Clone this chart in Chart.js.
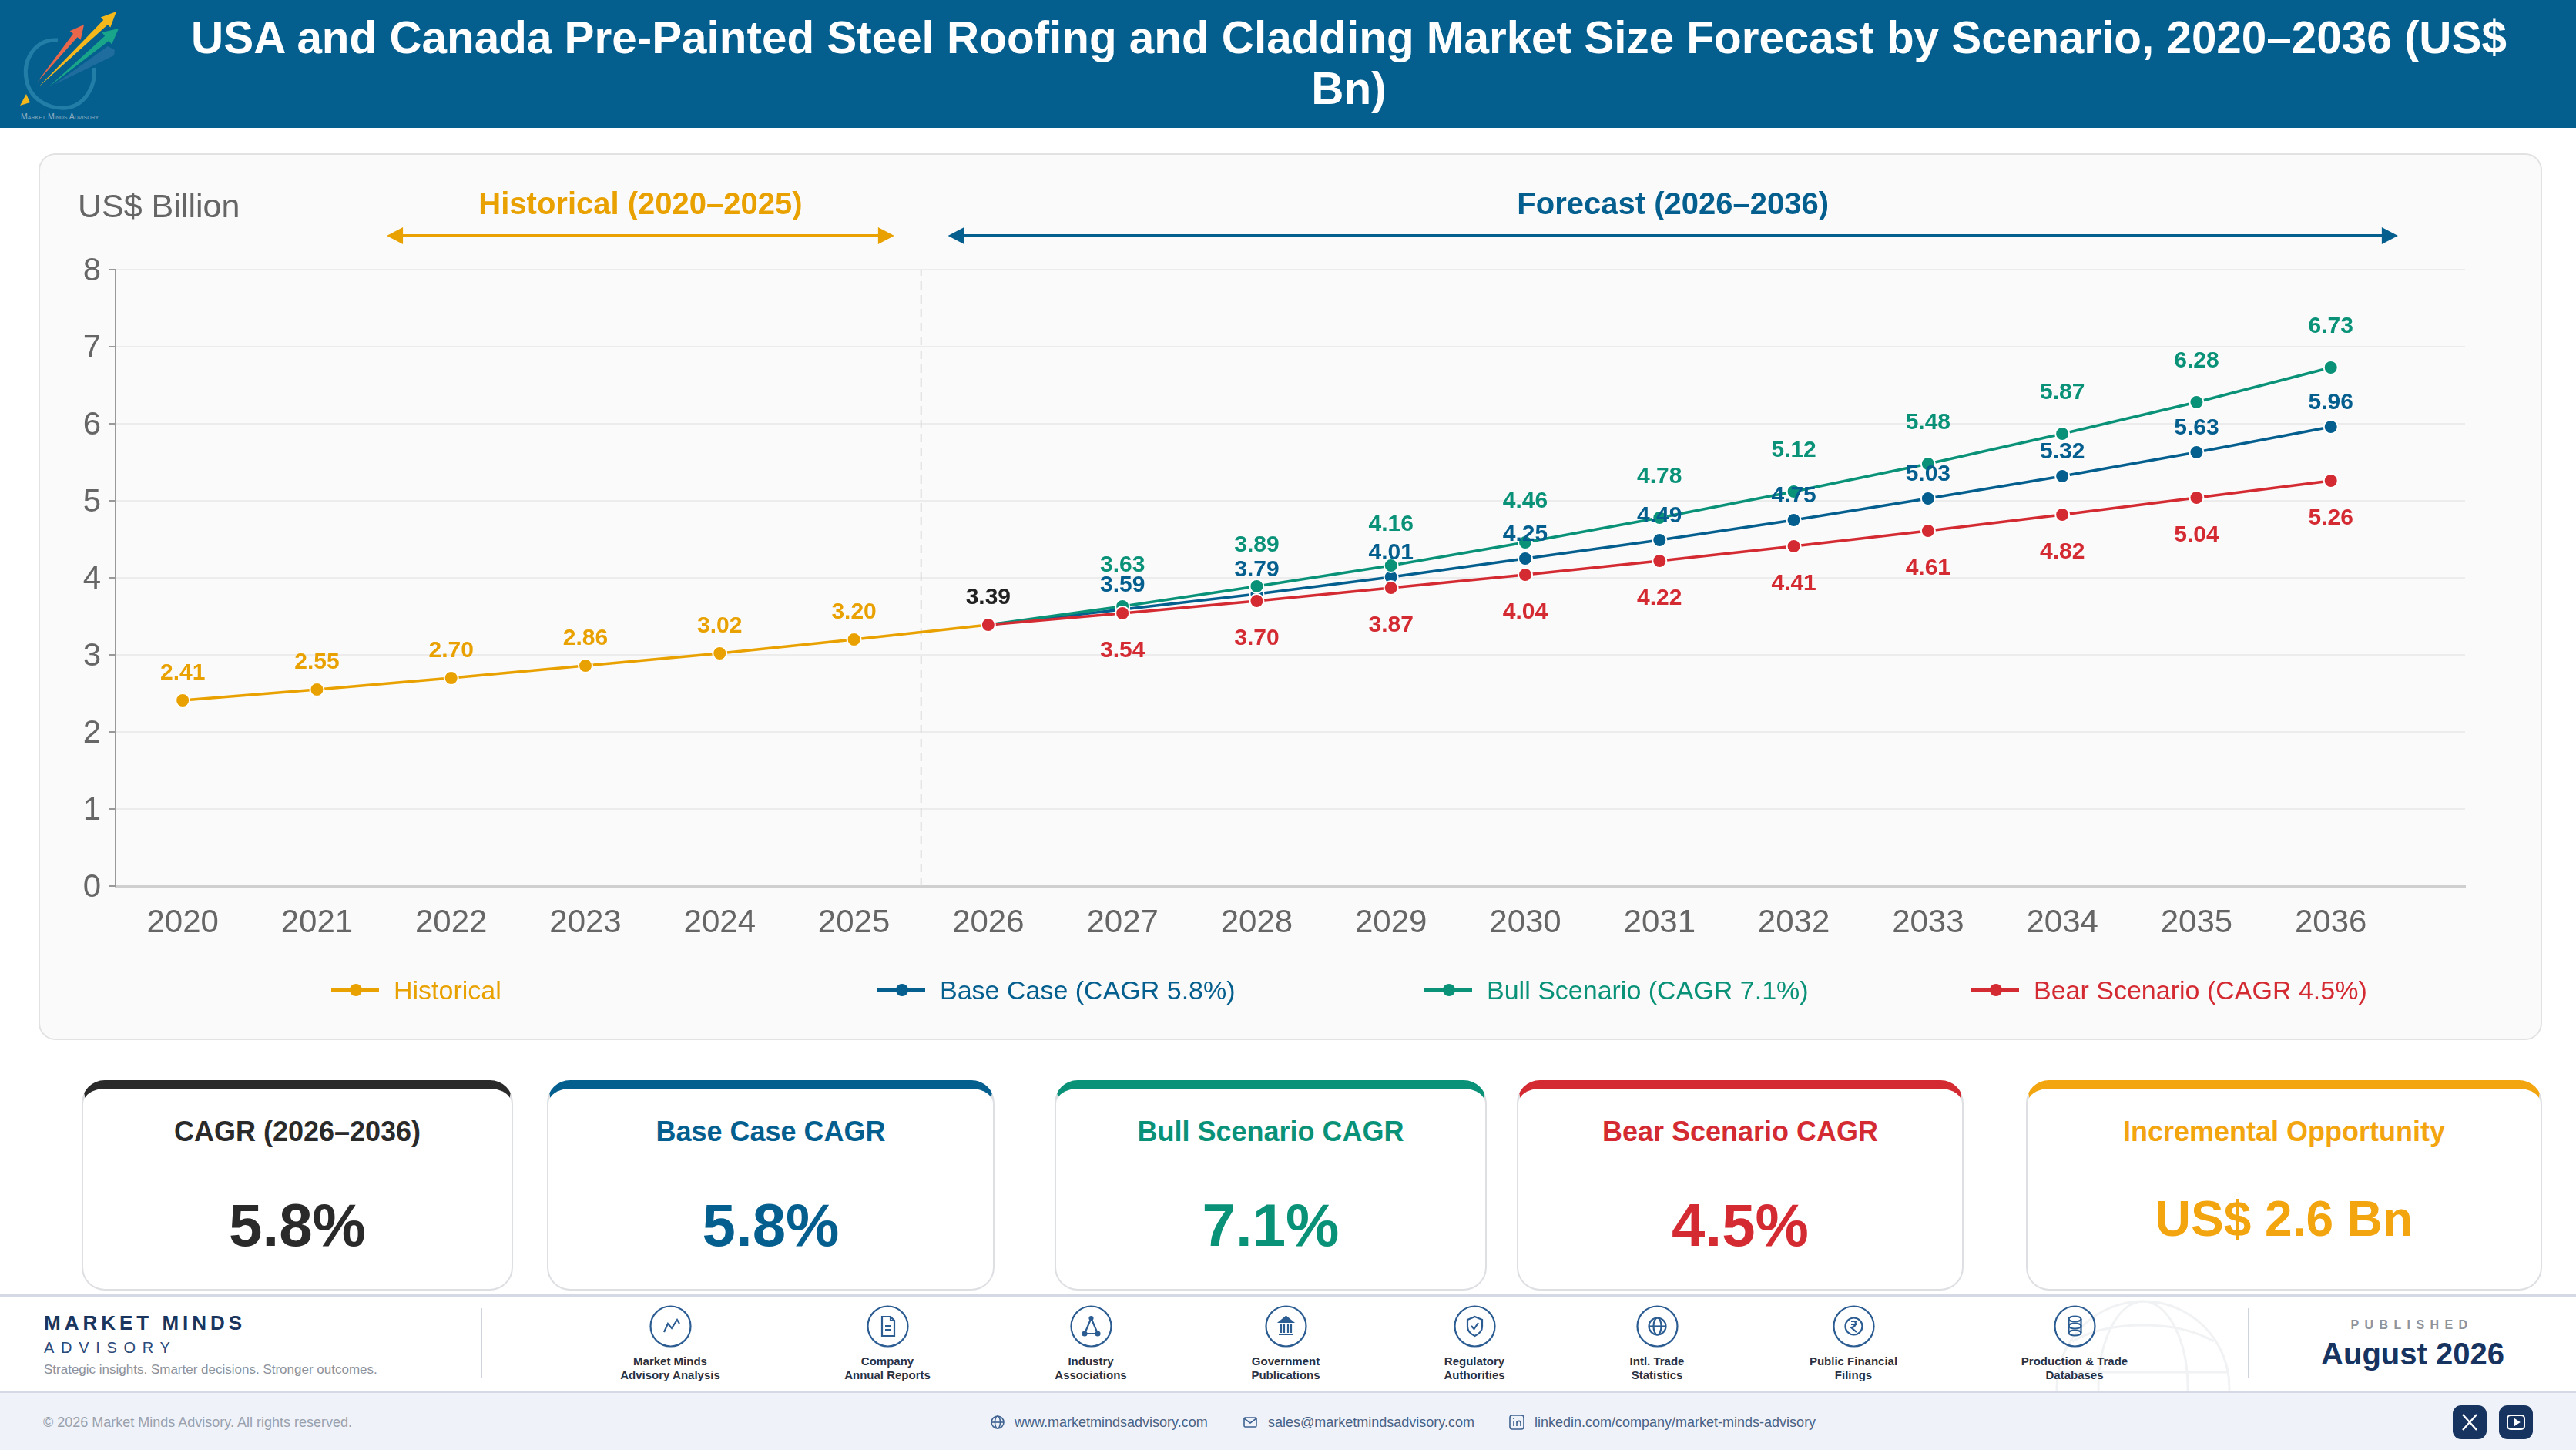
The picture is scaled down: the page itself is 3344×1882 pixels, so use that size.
<!DOCTYPE html>
<html>
<head>
<meta charset="utf-8">
<title>USA and Canada Pre-Painted Steel Roofing and Cladding Market Size Forecast</title>
<script src="https://cdn.jsdelivr.net/npm/chart.js@4/dist/chart.umd.min.js"></script>
<style>
  html, body { margin: 0; padding: 0; background: #fff; }
  body { position: relative; width: 3344px; height: 1882px; overflow: hidden; font-family: "Liberation Sans", Arial, sans-serif; }
  .abs { position: absolute; }
  .t { position: absolute; white-space: nowrap; line-height: 1; }
  .c { transform: translateX(-50%); text-align: center; }
  #header { left: 0; top: 0; width: 3344px; height: 166px; background: #045f8f; }
  #title { position: absolute; left: 1751px; top: 16px; transform: translateX(-50%); width: 3100px; text-align: center; color: #fff; font-weight: bold; font-size: 58.4px; line-height: 66px; }
  #panel { left: 50px; top: 199px; width: 3250px; height: 1151px; box-sizing: border-box; background: #fafafa; border: 2px solid #e2e2e2; border-radius: 22px; }
  #chartBox { position: absolute; left: 50px; top: 199px; width: 3250px; height: 1151px; }
  .card { position: absolute; top: 1402px; height: 273px; box-sizing: border-box; background: #fff; border: 2px solid #dedfe3; border-top-width: 11px; border-radius: 30px; }
  .card div { position: absolute; left: 0; right: 0; text-align: center; white-space: nowrap; font-weight: bold; line-height: 1; }
  .legend-mark { position: absolute; top: 1283px; width: 62px; height: 4px; }
  .legend-mark i { position: absolute; left: 24px; top: -6px; width: 16px; height: 16px; border-radius: 50%; background: inherit; }
  .src-icon { position: absolute; top: 1694px; width: 55px; height: 55px; }
  .src-label { position: absolute; top: 1758px; transform: translateX(-50%); text-align: center; white-space: nowrap; font-weight: bold; font-size: 15px; line-height: 18px; color: #2a3142; }
  .social { position: absolute; top: 1824px; width: 44px; height: 44px; border-radius: 11px; background: #17335f; }
</style>
</head>
<body>

<div class="abs" id="header">
  <svg class="abs" style="left:0;top:0" width="170" height="166" viewBox="0 0 170 166">
    <path d="M75 52 C45 50 30 78 34 102 C38 128 62 142 86 140 C110 137 125 112 122 88" fill="none" stroke="#2b86ad" stroke-width="5" opacity="0.8"/>
    <polygon points="26,137 39,133 34,122" fill="#f5b81c"/>
    <polygon points="70,110 140,60 149,65 148,72" fill="#1f6d9e"/>
    <polygon points="48,107 95,43.8 90.7,40.3 109,32 104.7,51.7 100.4,48.2" fill="#e8674a"/>
    <polygon points="63,113 136.1,46.7 132.3,42.1 154,37 145.1,57.5 141.3,52.9" fill="#18a589"/>
    <polygon points="50,113 134.2,26.1 130.7,22.5 151,15 143.3,35.5 139.8,31.9" fill="#f5b81c"/>
    <text x="27" y="155" font-size="10.5" fill="#8fb0c4" font-family="Liberation Sans" style="font-variant:small-caps">Market Minds Advisory</text>
  </svg>
  <div id="title">USA and Canada Pre-Painted Steel Roofing and Cladding Market Size Forecast by Scenario, 2020–2036 (US$<br>Bn)</div>
</div>

<div class="abs" id="panel"></div>
<div id="chartBox"><canvas id="chart1" width="3250" height="1151" style="width:3250px;height:1151px;display:block"></canvas></div>
<div class="t" style="left:101px;top:246px;font-size:43px;color:#666">US$ Billion</div>
<div id="legend"></div>

<div class="card" style="left:106px;width:560px;border-top-color:#2a2a2a;color:#2a2a2a"><div style="top:38px;font-size:36px">CAGR (2026–2036)</div><div style="top:138px;font-size:78px">5.8%</div></div>
<div class="card" style="left:710px;width:581px;border-top-color:#045f8f;color:#045f8f"><div style="top:38px;font-size:36px">Base Case CAGR</div><div style="top:138px;font-size:78px">5.8%</div></div>
<div class="card" style="left:1369px;width:561px;border-top-color:#0a9279;color:#0a9279"><div style="top:38px;font-size:36px">Bull Scenario CAGR</div><div style="top:138px;font-size:78px">7.1%</div></div>
<div class="card" style="left:1969px;width:580px;border-top-color:#d42a32;color:#d42a32"><div style="top:38px;font-size:36px">Bear Scenario CAGR</div><div style="top:138px;font-size:78px">4.5%</div></div>
<div class="card" style="left:2630px;width:670px;border-top-color:#f2a50f;color:#f2a50f"><div style="top:38px;font-size:36px">Incremental Opportunity</div><div style="top:137px;font-size:64px">US$ 2.6 Bn</div></div>

<!-- footer -->
<div class="abs" style="left:0;top:1680px;width:3344px;height:3px;background:#d5d8e5"></div>
<div class="abs" style="left:0;top:1805px;width:3344px;height:77px;background:#eff3f9;border-top:3px solid #d5d8e5;box-sizing:border-box"></div>
<svg class="abs" style="left:2660px;top:1683px" width="250" height="122" viewBox="0 0 250 122" fill="none" stroke="#f1f2f4" stroke-width="3">
  <circle cx="122" cy="118" r="112"/><ellipse cx="122" cy="118" rx="58" ry="112"/><path d="M10 98 H234 M30 58 C80 30 164 30 214 58"/>
</svg>
<div class="t" style="left:57px;top:1704px;font-size:26px;font-weight:bold;letter-spacing:5px;color:#1a365f">MARKET MINDS</div>
<div class="t" style="left:57px;top:1739px;font-size:20px;letter-spacing:8.7px;color:#2b4a7a">ADVISORY</div>
<div class="t" style="left:57px;top:1769px;font-size:17px;color:#8d929b">Strategic insights. Smarter decisions. Stronger outcomes.</div>
<div class="abs" style="left:624px;top:1698px;width:2px;height:91px;background:#cfd3dc"></div>
<div class="abs" style="left:2918px;top:1698px;width:2px;height:91px;background:#cfd3dc"></div>
<div class="t c" style="left:3131px;top:1712px;font-size:16px;font-weight:bold;letter-spacing:7.4px;color:#8f939b">PUBLISHED</div>
<div class="t c" style="left:3132px;top:1737px;font-size:40px;font-weight:bold;color:#17335f">August 2026</div>
<div id="sources"></div>

<div class="t" style="left:56px;top:1837px;font-size:18px;color:#9aa1ad">© 2026 Market Minds Advisory. All rights reserved.</div>
<svg class="abs" style="left:1285px;top:1836px" width="20" height="20" viewBox="0 0 20 20" fill="none" stroke="#3f6291" stroke-width="1.6"><circle cx="10" cy="10" r="8"/><ellipse cx="10" cy="10" rx="3.5" ry="8"/><path d="M2 10H18"/></svg>
<div class="t" style="left:1317px;top:1837px;font-size:18px;color:#4a6285">www.marketmindsadvisory.com</div>
<svg class="abs" style="left:1613px;top:1836px" width="20" height="20" viewBox="0 0 20 20" fill="none" stroke="#3f6291" stroke-width="1.6"><rect x="2" y="4" width="16" height="12" rx="1.5"/><path d="M2 5L10 11L18 5"/></svg>
<div class="t" style="left:1646px;top:1837px;font-size:18px;color:#4a6285">sales@marketmindsadvisory.com</div>
<svg class="abs" style="left:1958px;top:1835px" width="22" height="22" viewBox="0 0 22 22" fill="none" stroke="#3f6291" stroke-width="1.6"><rect x="2" y="2" width="18" height="18" rx="3"/><path d="M7 9V16M7 6V7M11 16V9M11 12C12 8.5 16 8.5 16 12V16"/></svg>
<div class="t" style="left:1992px;top:1837px;font-size:18px;color:#4a6285">linkedin.com/company/market-minds-advisory</div>
<div class="social" style="left:3184px"><svg width="44" height="44" viewBox="0 0 44 44" fill="none" stroke="#fff" stroke-width="2.4"><path d="M13 12L31 32M31 12L13 32"/></svg></div>
<div class="social" style="left:3244px"><svg width="44" height="44" viewBox="0 0 44 44" fill="none" stroke="#fff" stroke-width="2"><rect x="11" y="13" width="22" height="18" rx="4"/><path d="M20 18L26 22L20 26Z" fill="#fff"/></svg></div>

<script>
// Data
var allYears = [2020, 2021, 2022, 2023, 2024, 2025, 2026, 2027, 2028, 2029, 2030, 2031, 2032, 2033, 2034, 2035, 2036];
var histYears = [2020, 2021, 2022, 2023, 2024, 2025, 2026];
var histValues = [2.41, 2.55, 2.70, 2.86, 3.02, 3.20, 3.39];
var forecastYears = [2026, 2027, 2028, 2029, 2030, 2031, 2032, 2033, 2034, 2035, 2036];
var baseValues = [3.39, 3.59, 3.79, 4.01, 4.25, 4.49, 4.75, 5.03, 5.32, 5.63, 5.96];
var bullValues = [3.39, 3.63, 3.89, 4.16, 4.46, 4.78, 5.12, 5.48, 5.87, 6.28, 6.73];
var bearValues = [3.39, 3.54, 3.70, 3.87, 4.04, 4.22, 4.41, 4.61, 4.82, 5.04, 5.26];
var seriesNames = ["Historical", "Base Case (CAGR 5.8%)", "Bull Scenario (CAGR 7.1%)", "Bear Scenario (CAGR 4.5%)"];
var periodNames = ["Historical (2020–2025)", "Forecast (2026–2036)"];
var periodSpans = [[2021.52, 2025.3], [2025.7, 2036.5]];
var dividerYear = 2025.5;
var sourceLabels = [
  ["Market Minds", "Advisory Analysis"], ["Company", "Annual Reports"], ["Industry", "Associations"],
  ["Government", "Publications"], ["Regulatory", "Authorities"], ["Intl. Trade", "Statistics"],
  ["Public Financial", "Filings"], ["Production & Trade", "Databases"]
];

var orange = "#e9a100", blue = "#045f8f", green = "#0a9279", red = "#d42a32", dark = "#222222";

function points(years, values) {
  return years.map(function (y, i) { return { x: y, y: values[i] }; });
}

function lineSet(label, years, values, color, order, labelOffset, skipFirst) {
  return {
    label: label,
    data: points(years, values),
    borderColor: color,
    backgroundColor: color,
    borderWidth: 3.5,
    pointRadius: 9,
    pointBorderColor: "#ffffff",
    pointBorderWidth: 2,
    tension: 0,
    order: order,
    labelOffset: labelOffset,
    skipFirst: skipFirst
  };
}

// value labels, the library has no data labels of its own
var valueLabels = {
  id: "valueLabels",
  afterDatasetsDraw: function (chart) {
    var ctx = chart.ctx;
    ctx.save();
    ctx.font = "bold 30px 'Liberation Sans'";
    ctx.textAlign = "center";
    ctx.textBaseline = "middle";
    chart.data.datasets.forEach(function (ds, d) {
      if (ds.labelOffset === undefined) return;
      chart.getDatasetMeta(d).data.forEach(function (pt, i) {
        if (ds.skipFirst && i === 0) return;
        ctx.fillStyle = ds.data[i].x === 2026 ? dark : ds.borderColor;
        ctx.fillText(ds.data[i].y.toFixed(2), pt.x, pt.y + ds.labelOffset);
      });
    });
    ctx.restore();
  }
};

// the two period arrows above the plot
var periodArrows = {
  id: "periodArrows",
  afterDraw: function (chart) {
    var ctx = chart.ctx;
    var x = chart.scales.x;
    var colors = [orange, blue];
    ctx.save();
    periodNames.forEach(function (name, i) {
      var x0 = x.getPixelForValue(periodSpans[i][0]);
      var x1 = x.getPixelForValue(periodSpans[i][1]);
      var yy = chart.chartArea.top - 44;
      ctx.strokeStyle = ctx.fillStyle = colors[i];
      ctx.lineWidth = 4;
      ctx.beginPath();
      ctx.moveTo(x0 + 10, yy);
      ctx.lineTo(x1 - 10, yy);
      ctx.stroke();
      [[x0, 1], [x1, -1]].forEach(function (a) {
        ctx.beginPath();
        ctx.moveTo(a[0], yy);
        ctx.lineTo(a[0] + a[1] * 21, yy - 11);
        ctx.lineTo(a[0] + a[1] * 21, yy + 11);
        ctx.closePath();
        ctx.fill();
      });
      ctx.font = "bold 40px 'Liberation Sans'";
      ctx.textAlign = "center";
      ctx.textBaseline = "middle";
      ctx.fillText(name, (x0 + x1) / 2, chart.chartArea.top - 83);
    });
    ctx.restore();
  }
};

var chart1 = new Chart(document.getElementById("chart1"), {
  type: "line",
  data: {
    datasets: [
      lineSet(seriesNames[0], histYears, histValues, orange, 4, -35, false),
      lineSet(seriesNames[1], forecastYears, baseValues, blue, 3, -31, true),
      lineSet(seriesNames[2], forecastYears, bullValues, green, 2, -53, true),
      lineSet(seriesNames[3], forecastYears, bearValues, red, 1, 49, true),
      {
        label: "divider",
        data: [{ x: dividerYear, y: 0 }, { x: dividerYear, y: 8 }],
        borderColor: "#dcdcdc",
        borderWidth: 2,
        borderDash: [11, 7],
        pointRadius: 0,
        order: 5
      }
    ]
  },
  options: {
    responsive: false,
    animation: false,
    devicePixelRatio: 1,
    layout: { padding: { top: 151, right: 100, left: 0, bottom: 0 } },
    plugins: { legend: { display: false }, tooltip: { enabled: false } },
    scales: {
      x: {
        type: "linear",
        min: 2019.5,
        max: 2037,
        afterBuildTicks: function (axis) {
          axis.ticks = allYears.map(function (y) { return { value: y }; });
        },
        afterFit: function (axis) { axis.height = 200; },
        grid: { display: false },
        border: { color: "#cfcfcf", width: 3 },
        ticks: {
          stepSize: 1,
          autoSkip: false,
          maxRotation: 0,
          padding: 15,
          color: "#666666",
          font: { family: "Liberation Sans", size: 42 },
          callback: function (v) { return String(v); }
        }
      },
      y: {
        min: 0,
        max: 8,
        afterFit: function (axis) { axis.width = 100; },
        grid: { color: "#ececec", lineWidth: 2, tickLength: 9, tickColor: "#999999", tickWidth: 2 },
        border: { color: "#999999", width: 2 },
        ticks: {
          stepSize: 1,
          padding: 10,
          labelOffset: 2,
          color: "#666666",
          font: { family: "Liberation Sans", size: 42 }
        }
      }
    }
  },
  plugins: [valueLabels, periodArrows]
});

// legend row
var legendStarts = [430, 1139, 1849, 2559];
var legendColors = [orange, blue, green, red];
var legendHtml = "";
seriesNames.forEach(function (name, i) {
  legendHtml += '<div class="legend-mark" style="left:' + legendStarts[i] + 'px;background:' + legendColors[i] + '"><i></i></div>';
  legendHtml += '<div class="t" style="top:1268px;left:' + (legendStarts[i] + 81) + 'px;font-size:34px;color:' + legendColors[i] + '">' + name + '</div>';
});
document.getElementById("legend").innerHTML = legendHtml;

// source icons in the footer
var sourceCenters = [870, 1152, 1416, 1669, 1914, 2151, 2406, 2693];
var sourceGlyphs = [
  '<path d="M19 35L24 24L29 30L36 19L39 24"/>',
  '<path d="M20 15H31L36 20V40H20ZM31 15V20H36M24 27H32M24 32H32"/>',
  '<path d="M27.5 17L19 37H36ZM27.5 17V17"/><circle cx="27.5" cy="17" r="2" fill="#2b5c92"/><circle cx="19" cy="37" r="2.5" fill="#2b5c92"/><circle cx="36" cy="37" r="2.5" fill="#2b5c92"/>',
  '<path d="M19 22H36L27.5 15Z" fill="#2b5c92"/><path d="M21 25V36M25 25V36M30 25V36M34 25V36M18 38H37"/>',
  '<path d="M27.5 15L37 19V28C37 34 32 38 27.5 40C23 38 18 34 18 28V19ZM23 27L26.5 31L32 23"/>',
  '<circle cx="27.5" cy="27.5" r="11"/><ellipse cx="27.5" cy="27.5" rx="5" ry="11"/><path d="M16.5 27.5H38.5"/>',
  '<circle cx="27.5" cy="27.5" r="11"/><path d="M24 21H31M24 25H31M29 21C31 24 29 29 24 29L31 35"/>',
  '<ellipse cx="27.5" cy="18" rx="8" ry="3.5"/><ellipse cx="27.5" cy="27" rx="8" ry="3.5"/><ellipse cx="27.5" cy="36" rx="8" ry="3.5"/><path d="M19.5 18V36M35.5 18V36"/>'
];
var sourceHtml = "";
sourceLabels.forEach(function (lines, i) {
  sourceHtml += '<svg class="src-icon" style="left:' + (sourceCenters[i] - 27.5) + 'px" viewBox="0 0 55 55" fill="none" stroke="#2b5c92" stroke-width="2.2"><circle cx="27.5" cy="27.5" r="26"/>' + sourceGlyphs[i] + '</svg>';
  sourceHtml += '<div class="src-label" style="left:' + sourceCenters[i] + 'px">' + lines[0] + '<br>' + lines[1].replace("&", "&amp;") + '</div>';
});
document.getElementById("sources").innerHTML = sourceHtml;
</script>
</body>
</html>
